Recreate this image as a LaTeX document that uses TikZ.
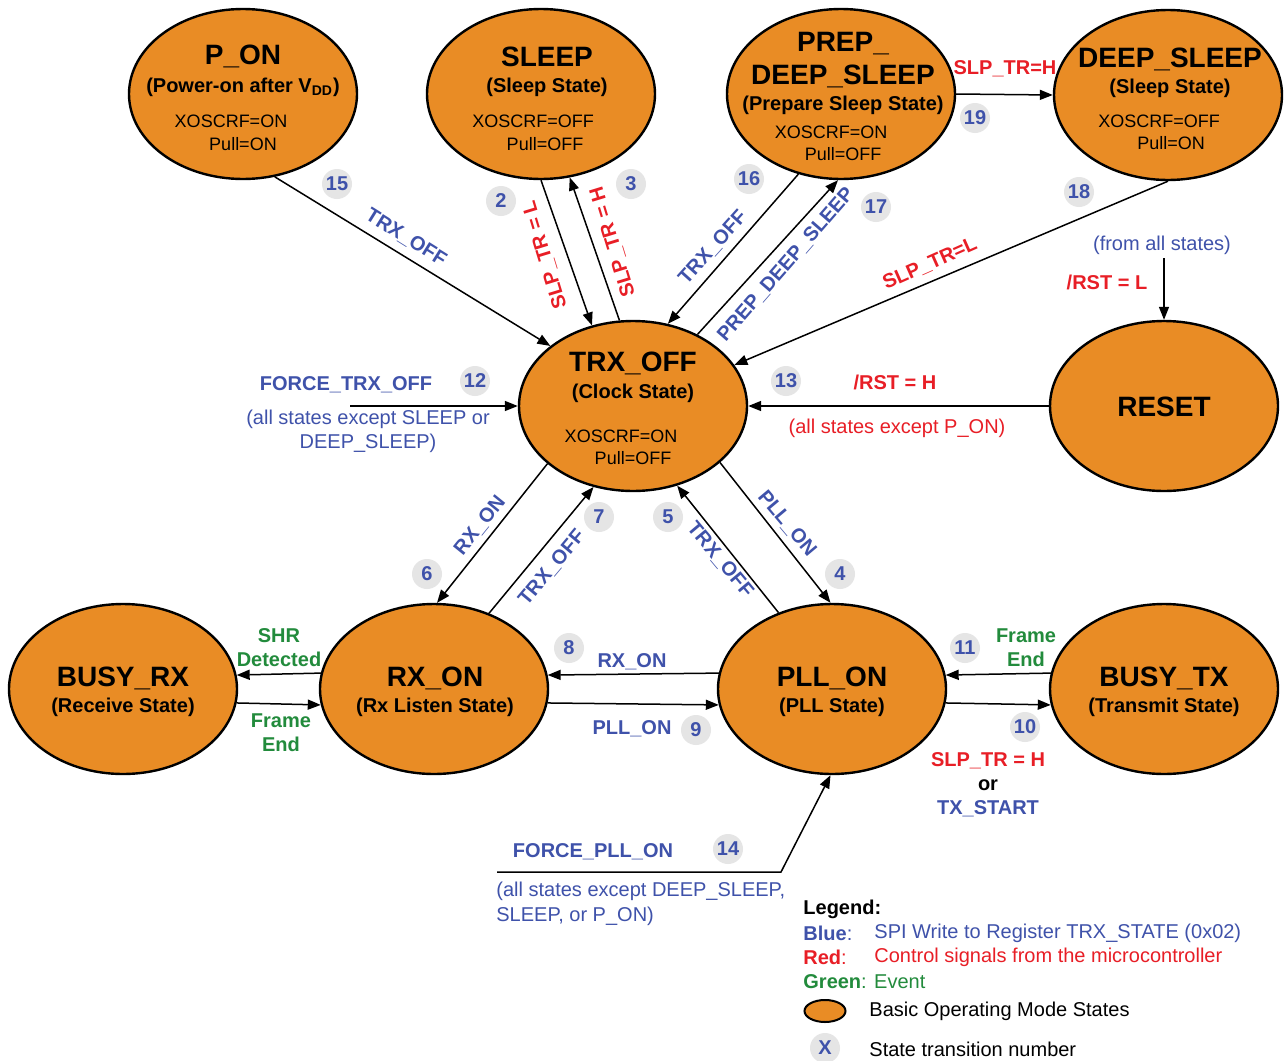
\documentclass[tikz,border=0pt]{standalone}
\usepackage{fontspec}
\setmainfont{Liberation Sans}
\usetikzlibrary{shapes.geometric,arrows.meta}
\definecolor{stfill}{RGB}{233,140,37}
\definecolor{myblue}{RGB}{63,82,170}
\definecolor{myred}{RGB}{232,30,38}
\definecolor{mygreen}{RGB}{34,139,60}
\definecolor{numgray}{RGB}{229,229,229}
\tikzset{
  st/.style={ellipse, draw=black, line width=1.2pt, fill=stfill, minimum width=114pt, minimum height=85pt, inner sep=0pt},
  num/.style={circle, fill=numgray, minimum size=15pt, inner sep=0pt, font=\bfseries\fontsize{10}{12}\selectfont, text=myblue},
  conn/.style={line width=0.75pt, draw=black, -{Triangle[length=6.5pt,width=5pt]}},
  tx/.style={inner sep=0pt, yshift=-0.9pt},
  ttl/.style={tx, font=\bfseries\fontsize{14}{16.5}\selectfont, align=center},
  sub/.style={tx, font=\bfseries\fontsize{10}{12}\selectfont},
  det/.style={tx, font=\fontsize{9}{11}\selectfont},
  lblb/.style={tx, font=\bfseries\fontsize{10}{12}\selectfont, text=myblue},
  lblr/.style={tx, font=\bfseries\fontsize{10}{12}\selectfont, text=myred},
  lblg/.style={tx, font=\bfseries\fontsize{10}{12}\selectfont, text=mygreen, align=center},
  txtb/.style={tx, font=\fontsize{10}{12}\selectfont, text=myblue},
  txtr/.style={tx, font=\fontsize{10}{12}\selectfont, text=myred},
  txtk/.style={tx, font=\fontsize{10}{12}\selectfont, text=black},
}
\begin{document}
\begin{tikzpicture}[x=0.5pt, y=-0.5pt]
\useasboundingbox (0,0) rectangle (1284,1060);
\fill[white] (0,0) rectangle (1284,1060);

% states
\node[st] (pon)    at (243,94)  {};
\node[st] (sleep)  at (541,94)  {};
\node[st] (prep)   at (841,94)  {};
\node[st] (deep)   at (1168,95) {};
\node[st] (trx)    at (633,406) {};
\node[st] (reset)  at (1164,406) {};
\node[st] (busyrx) at (123,689) {};
\node[st] (rxon)   at (434,689) {};
\node[st] (pll)    at (832,689) {};
\node[st] (busytx) at (1164,689) {};

% state texts
\node[ttl] (ponT) at (243,55) {P\_ON};
\node[sub] (ponS) at (243,86) {(Power-on after V\textsubscript{DD})};
\node[det] (ponD1) at (231,120) {XOSCRF=ON};
\node[det] (ponD2) at (243,142) {Pull=ON};

\node[ttl] (sleepT) at (547,55) {SLEEP};
\node[sub] (sleepS) at (547,86) {(Sleep State)};
\node[det] (sleepD1) at (533,120) {XOSCRF=OFF};
\node[det] (sleepD2) at (545,142) {Pull=OFF};

\node[ttl] (prepT) at (843,58) {PREP\_\\DEEP\_SLEEP};
\node[sub] (prepS) at (843,104) {(Prepare Sleep State)};
\node[det] (prepD1) at (831,131) {XOSCRF=ON};
\node[det] (prepD2) at (843,152) {Pull=OFF};

\node[ttl] (deepT) at (1170,58) {DEEP\_SLEEP};
\node[sub] (deepS) at (1170,87) {(Sleep State)};
\node[det] (deepD1) at (1159,120) {XOSCRF=OFF};
\node[det] (deepD2) at (1171,141) {Pull=ON};

\node[ttl] (trxT) at (633,362) {TRX\_OFF};
\node[sub] (trxS) at (633,392) {(Clock State)};
\node[det] (trxD1) at (621,434) {XOSCRF=ON};
\node[det] (trxD2) at (633,456) {Pull=OFF};

\node[ttl] (resetT) at (1164,405) {RESET};

\node[ttl] (busyrxT) at (123,677) {BUSY\_RX};
\node[sub] (busyrxS) at (123,706) {(Receive State)};
\node[ttl] (rxonT) at (435,677) {RX\_ON};
\node[sub] (rxonS) at (435,706) {(Rx Listen State)};
\node[ttl] (pllT) at (832,677) {PLL\_ON};
\node[sub] (pllS) at (832,706) {(PLL State)};
\node[ttl] (busytxT) at (1164,677) {BUSY\_TX};
\node[sub] (busytxS) at (1164,706) {(Transmit State)};

% free ends
\coordinate (ftoff) at (350,406);
\coordinate (rstin) at (1164,258);
\coordinate (fpll) at (497,872);
\coordinate (fpllc) at (781,872);

% connectors
\draw[conn] (pon.-69.6) -- (trx.144.3);
\draw[conn] (sleep.-90) -- (trx.117.1);
\draw[conn] (trx.99.5) -- (sleep.-71);
\draw[conn] (prep.-118) -- (trx.67.7);
\draw[conn] (trx.48.3) -- (prep.-92);
\draw[conn] (deep.-90) -- (trx.22.3);
\draw[conn] (prep.0) -- (deep.180);
\draw[conn] (rstin) -- (reset.90);
\draw[conn] (reset.180) -- (trx.0);
\draw[conn] (ftoff) -- (trx.180);
\draw[conn] (trx.-146.2) -- (rxon.88.6);
\draw[conn] (rxon.54.2) -- (trx.-116.3);
\draw[conn] (pll.125) -- (trx.-61.5);
\draw[conn] (trx.-33.2) -- (pll.91.3);
\draw[conn] (rxon.172.9) -- (busyrx.7.1);
\draw[conn] (busyrx.-7.1) -- (rxon.-172.9);
\draw[conn] (pll.172.9) -- (rxon.7.1);
\draw[conn] (rxon.-7.1) -- (pll.-172.9);
\draw[conn] (busytx.172.9) -- (pll.7.1);
\draw[conn] (pll.-7.1) -- (busytx.-172.9);
\draw[conn] (fpll) -- (fpllc) -- (pll.-91.3);

% connector labels
\node[lblb, rotate=-32] (l15) at (406,236) {TRX\_OFF};
\node[lblr, rotate=107] (l2) at (545,253) {SLP\_TR = L};
\node[lblr, rotate=107] (l3) at (613,240) {SLP\_TR = H};
\node[lblb, rotate=48] (l16) at (713,246) {TRX\_OFF};
\node[lblb, rotate=49] (l17) at (786,263) {PREP\_DEEP\_SLEEP};
\node[lblr, rotate=24] (l18) at (930,262) {SLP\_TR=L};
\node[lblr] (l19) at (1005,67) {SLP\_TR=H};
\node[txtb] (lfrom) at (1162,244) {(from all states)};
\node[lblr] (lrstl) at (1107,281) {/RST = L};
\node[lblr] (lrsth) at (895,381) {/RST = H};
\node[txtr] (lexc) at (897,427) {(all states except P\_ON)};
\node[lblb] (lftoff) at (346,383) {FORCE\_TRX\_OFF};
\node[txtb, align=center] (lftoffx) at (368,430) {(all states except SLEEP or\\DEEP\_SLEEP)};
\node[lblb, rotate=51] (l6) at (480,524) {RX\_ON};
\node[lblb, rotate=50] (l7) at (552,566) {TRX\_OFF};
\node[lblb, rotate=-50] (l5) at (720,558) {TRX\_OFF};
\node[lblb, rotate=-50] (l4) at (787,522) {PLL\_ON};
\node[lblg] (lshr) at (279,646) {SHR\\Detected};
\node[lblg] (lfe1) at (281,731) {Frame\\End};
\node[lblb] (l8) at (632,660) {RX\_ON};
\node[lblb] (l9) at (632,727) {PLL\_ON};
\node[lblg] (lfe2) at (1026,646) {Frame\\End};
\node[tx, font=\bfseries\fontsize{10}{12}\selectfont, align=center] (l10) at (988,783) {{\color{myred}SLP\_TR = H}\\or\\{\color{myblue}TX\_START}};
\node[lblb] (lfpll) at (593,850) {FORCE\_PLL\_ON};
\node[txtb, align=left, anchor=west, font=\fontsize{10}{12.5}\selectfont] (lfpllx) at (496,902) {(all states except DEEP\_SLEEP,\\SLEEP, or P\_ON)};

% numbers
\node[num] (n15) at (337,184) {15};
\node[num] (n2) at (501,201) {2};
\node[num] (n3) at (631,184) {3};
\node[num] (n16) at (749,179) {16};
\node[num] (n17) at (876,207) {17};
\node[num] (n19) at (975,118) {19};
\node[num] (n18) at (1079,192) {18};
\node[num] (n12) at (475,381) {12};
\node[num] (n13) at (786,381) {13};
\node[num] (n7) at (599,517) {7};
\node[num] (n5) at (668,517) {5};
\node[num] (n6) at (427,574) {6};
\node[num] (n4) at (840,574) {4};
\node[num] (n8) at (569,648) {8};
\node[num] (n9) at (696,730) {9};
\node[num] (n11) at (965,648) {11};
\node[num] (n10) at (1025,727) {10};
\node[num] (n14) at (728,849) {14};

% legend
\node[txtk, anchor=west, font=\bfseries\fontsize{10}{12}\selectfont] (lg0) at (803,908) {Legend:};
\node[txtb, anchor=west] (lg1) at (803,932) {\textbf{Blue}:};
\node[txtb, anchor=west] (lg1t) at (874,932) {SPI Write to Register TRX\_STATE (0x02)};
\node[txtr, anchor=west] (lg2) at (803,956) {\textbf{Red}:};
\node[txtr, anchor=west] (lg2t) at (874,956) {Control signals from the microcontroller};
\node[tx, anchor=west, font=\fontsize{10}{12}\selectfont, text=mygreen] (lg3) at (803,980) {\textbf{Green}: Event};
\node[ellipse, draw=black, line width=1pt, fill=stfill, minimum width=20.5pt, minimum height=11pt, inner sep=0pt] (lgell) at (825,1011) {};
\node[txtk, anchor=west] (lg4) at (869,1010) {Basic Operating Mode States};
\node[num] (lgnum) at (825,1048) {X};
\node[txtk, anchor=west] (lg5) at (869,1048) {State transition number};
\end{tikzpicture}
\end{document}
